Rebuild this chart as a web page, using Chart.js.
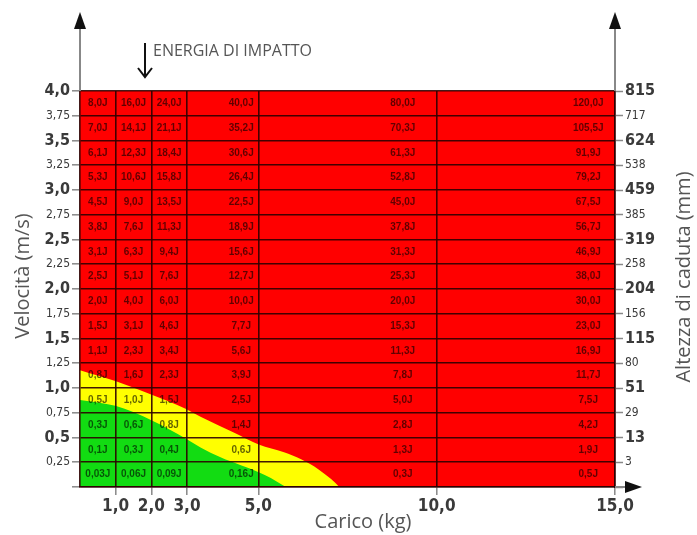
<!DOCTYPE html>
<html lang="it">
<head>
<meta charset="utf-8">
<title>Energia di impatto</title>
<script src="https://cdn.jsdelivr.net/npm/chart.js@4.4.1/dist/chart.umd.min.js"></script>
<style>
    html, body { margin: 0; padding: 0; background: #fff; }
    #wrap { width: 697px; height: 535px; }
</style>
</head>
<body>
<div id="wrap"><canvas id="energiaChart" width="697" height="535"></canvas></div>
<script>
// righe della tabella (velocità in m/s, dall'alto in basso)
const rowVelocity = [4.0, 3.75, 3.5, 3.25, 3.0, 2.75, 2.5, 2.25, 2.0, 1.75, 1.5, 1.25, 1.0, 0.75, 0.5, 0.25];
const velocityLabels = ['4,0', '3,75', '3,5', '3,25', '3,0', '2,75', '2,5', '2,25', '2,0', '1,75', '1,5', '1,25', '1,0', '0,75', '0,5', '0,25'];
const altezzaLabels = ['815', '717', '624', '538', '459', '385', '319', '258', '204', '156', '115', '80', '51', '29', '13', '3'];

// colonne (carico in kg)
const caricoTicks = [1, 2, 3, 5, 10, 15];
const caricoLabels = ['1,0', '2,0', '3,0', '5,0', '10,0', '15,0'];

// energia di impatto per colonna
const energia1kg = ['8,0J', '7,0J', '6,1J', '5,3J', '4,5J', '3,8J', '3,1J', '2,5J', '2,0J', '1,5J', '1,1J', '0,8J', '0,5J', '0,3J', '0,1J', '0,03J'];
const energia2kg = ['16,0J', '14,1J', '12,3J', '10,6J', '9,0J', '7,6J', '6,3J', '5,1J', '4,0J', '3,1J', '2,3J', '1,6J', '1,0J', '0,6J', '0,3J', '0,06J'];
const energia3kg = ['24,0J', '21,1J', '18,4J', '15,8J', '13,5J', '11,3J', '9,4J', '7,6J', '6,0J', '4,6J', '3,4J', '2,3J', '1,5J', '0,8J', '0,4J', '0,09J'];
const energia5kg = ['40,0J', '35,2J', '30,6J', '26,4J', '22,5J', '18,9J', '15,6J', '12,7J', '10,0J', '7,7J', '5,6J', '3,9J', '2,5J', '1,4J', '0,6J', '0,16J'];
const energia10kg = ['80,0J', '70,3J', '61,3J', '52,8J', '45,0J', '37,8J', '31,3J', '25,3J', '20,0J', '15,3J', '11,3J', '7,8J', '5,0J', '2,8J', '1,3J', '0,3J'];
const energia15kg = ['120,0J', '105,5J', '91,9J', '79,2J', '67,5J', '56,7J', '46,9J', '38,0J', '30,0J', '23,0J', '16,9J', '11,7J', '7,5J', '4,2J', '1,9J', '0,5J'];

// zone colorate (confini)
const rossaCarico = [0, 15];
const rossaVelocita = [4, 4];
const giallaCarico = [0, 0.99, 2.03, 2.96, 3.38, 4.31, 5.01, 5.72, 6.2, 6.68, 7.04, 7.27];
const giallaVelocita = [1.18, 1.07, 0.93, 0.79, 0.71, 0.55, 0.43, 0.35, 0.28, 0.18, 0.08, 0];
const verdeCarico = [0, 0.99, 2.03, 2.96, 3.38, 3.94, 4.51, 5.01, 5.35, 5.63, 5.77];
const verdeVelocita = [0.88, 0.82, 0.67, 0.49, 0.40, 0.30, 0.22, 0.15, 0.09, 0.03, 0];

const colTextPos = [0.5, 0.5, 0.5, 0.76, 0.81, 0.85];
const gridColor = 'rgba(45,0,0,0.9)';
const tickColor = '#3a3a3a';
const narrowFont = "'Liberation Sans Narrow', 'DejaVu Sans Condensed', 'Liberation Sans', sans-serif";

function punti(xs, ys) {
    return xs.map((x, i) => ({ x: x, y: ys[i] }));
}

function isMajor(v) {
    return Math.abs(v * 2 - Math.round(v * 2)) < 1e-6;
}

function labelFor(value, labels) {
    const i = rowVelocity.findIndex(v => Math.abs(v - value) < 1e-6);
    return i >= 0 ? labels[i] : '';
}

function tickFont(ctx) {
    const v = ctx.tick ? ctx.tick.value : 0;
    return isMajor(v)
        ? { family: narrowFont, size: 16, weight: 'bold' }
        : { family: narrowFont, size: 12 };
}

function freccia(ctx, x1, y1, x2, y2) {
    // linea grigia con punta nera
    const ang = Math.atan2(y2 - y1, x2 - x1);
    const head = 17;
    ctx.strokeStyle = '#888';
    ctx.lineWidth = 2;
    ctx.beginPath();
    ctx.moveTo(x1, y1);
    ctx.lineTo(x2 - Math.cos(ang) * head, y2 - Math.sin(ang) * head);
    ctx.stroke();
    ctx.fillStyle = '#111';
    ctx.beginPath();
    ctx.moveTo(x2, y2);
    ctx.lineTo(x2 - Math.cos(ang) * head - Math.sin(ang) * 6, y2 - Math.sin(ang) * head + Math.cos(ang) * 6);
    ctx.lineTo(x2 - Math.cos(ang) * head + Math.sin(ang) * 6, y2 - Math.sin(ang) * head - Math.cos(ang) * 6);
    ctx.closePath();
    ctx.fill();
}

const etichettePlugin = {
    id: 'etichette',
    afterDraw(chart) {
        const ctx = chart.ctx;
        const x = chart.scales.x;
        const y = chart.scales.y;
        const area = chart.chartArea;
        const colonne = [energia1kg, energia2kg, energia3kg, energia5kg, energia10kg, energia15kg];
        const bordi = [0].concat(caricoTicks);

        ctx.save();
        // testi delle celle
        ctx.font = "bold 10px 'Liberation Sans', Arial, sans-serif";
        ctx.fillStyle = 'rgba(0,0,0,0.62)';
        ctx.textAlign = 'center';
        ctx.textBaseline = 'middle';
        colonne.forEach((col, c) => {
            const left = x.getPixelForValue(bordi[c]);
            const right = x.getPixelForValue(bordi[c + 1]);
            const tx = left + (right - left) * colTextPos[c];
            col.forEach((txt, r) => {
                const ty = y.getPixelForValue(rowVelocity[r] - 0.125);
                ctx.fillText(txt, tx, ty);
            });
        });

        // frecce degli assi
        freccia(ctx, area.left, area.top, area.left, 12);
        freccia(ctx, area.right, area.top, area.right, 12);
        freccia(ctx, area.right, area.bottom, area.right + 27, area.bottom);

        // titoli
        ctx.fillStyle = '#555';
        ctx.font = "20px 'Open Sans', sans-serif";
        ctx.textAlign = 'center';
        ctx.textBaseline = 'middle';
        ctx.fillText('Carico (kg)', 363, 522);

        ctx.save();
        ctx.translate(23, 276);
        ctx.rotate(-Math.PI / 2);
        ctx.fillText('Velocità (m/s)', 0, 0);
        ctx.restore();

        ctx.save();
        ctx.translate(684, 277);
        ctx.rotate(-Math.PI / 2);
        ctx.fillText('Altezza di caduta (mm)', 0, 0);
        ctx.restore();

        // energia di impatto
        ctx.font = "16px 'Open Sans', sans-serif";
        ctx.textAlign = 'left';
        ctx.fillStyle = '#555';
        ctx.fillText('ENERGIA DI IMPATTO', 153, 51);

        ctx.strokeStyle = '#111';
        ctx.lineWidth = 2;
        ctx.beginPath();
        ctx.moveTo(145, 43);
        ctx.lineTo(145, 77);
        ctx.moveTo(138, 68);
        ctx.lineTo(145, 77);
        ctx.lineTo(152, 68);
        ctx.stroke();
        ctx.restore();
    }
};

const ctx = document.getElementById('energiaChart').getContext('2d');
const energiaChart = new Chart(ctx, {
    type: 'line',
    data: {
        datasets: [{
            label: 'zona verde',
            data: punti(verdeCarico, verdeVelocita),
            backgroundColor: '#12dc12',
            borderWidth: 0,
            pointRadius: 0,
            fill: 'origin',
            cubicInterpolationMode: 'monotone',
            order: 1
        }, {
            label: 'zona gialla',
            data: punti(giallaCarico, giallaVelocita),
            backgroundColor: '#ffff00',
            borderWidth: 0,
            pointRadius: 0,
            fill: 'origin',
            cubicInterpolationMode: 'monotone',
            order: 2
        }, {
            label: 'zona rossa',
            data: punti(rossaCarico, rossaVelocita),
            backgroundColor: '#ff0000',
            borderWidth: 0,
            pointRadius: 0,
            fill: 'origin',
            order: 3
        }]
    },
    options: {
        responsive: false,
        animation: false,
        events: [],
        layout: { padding: { top: 91, left: 0, right: 0, bottom: 0 } },
        plugins: {
            legend: { display: false },
            tooltip: { enabled: false }
        },
        scales: {
            x: {
                type: 'linear',
                min: 0,
                max: 15,
                afterBuildTicks: s => { s.ticks = caricoTicks.map(v => ({ value: v })); },
                afterFit: s => { s.height = 48; },
                grid: { z: 1, color: gridColor, lineWidth: 1.6, tickLength: 8, tickColor: '#888', tickWidth: 1.5 },
                border: { z: 1, color: gridColor, width: 1.6 },
                ticks: {
                    autoSkip: false,
                    maxRotation: 0,
                    padding: 1,
                    color: tickColor,
                    font: { family: narrowFont, size: 17, weight: 'bold' },
                    callback: (value) => caricoLabels[caricoTicks.indexOf(value)] || ''
                }
            },
            y: {
                type: 'linear',
                position: 'left',
                min: 0,
                max: 4,
                afterBuildTicks: s => { s.ticks = [0].concat(rowVelocity.slice().reverse()).map(v => ({ value: v })); },
                afterFit: s => { s.width = 80; },
                grid: { z: 1, color: gridColor, lineWidth: 1.6, tickLength: 8, tickColor: '#888', tickWidth: 1.5 },
                border: { z: 1, color: gridColor, width: 1.6 },
                ticks: {
                    autoSkip: false,
                    padding: 2,
                    color: tickColor,
                    font: tickFont,
                    callback: (value) => labelFor(value, velocityLabels)
                }
            },
            y2: {
                type: 'linear',
                position: 'right',
                min: 0,
                max: 4,
                afterBuildTicks: s => { s.ticks = [0].concat(rowVelocity.slice().reverse()).map(v => ({ value: v })); },
                afterFit: s => { s.width = 82; },
                grid: { z: 1, drawOnChartArea: false, tickLength: 8, tickColor: '#888', tickWidth: 1.5 },
                border: { z: 1, color: gridColor, width: 1.6 },
                ticks: {
                    autoSkip: false,
                    padding: 2,
                    color: tickColor,
                    font: tickFont,
                    callback: (value) => labelFor(value, altezzaLabels)
                }
            }
        }
    },
    plugins: [etichettePlugin]
});
</script>
</body>
</html>
